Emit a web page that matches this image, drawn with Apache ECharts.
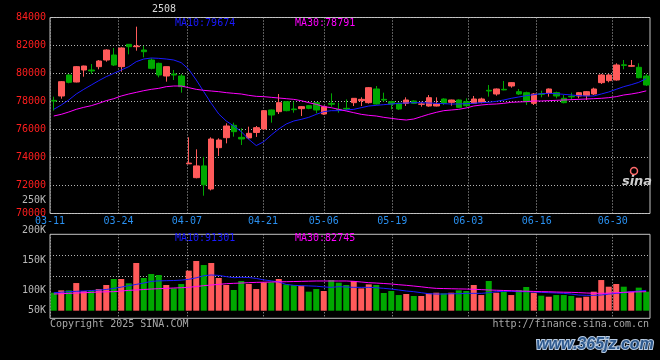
<!DOCTYPE html>
<html><head><meta charset="utf-8">
<script src="https://cdn.jsdelivr.net/npm/echarts@6/dist/echarts.min.js"></script>
<style>html,body{margin:0;padding:0;background:#000;}#c{width:660px;height:360px;}</style>
</head><body><div id="c"></div>
<script>
// ---- data ----
const dates = ['03-11','03-12','03-13','03-14','03-17','03-18','03-19','03-20','03-21','03-24','03-25','03-26','03-27','03-28','03-31',
 '04-01','04-02','04-03','04-07','04-08','04-09','04-10','04-11','04-14','04-15','04-16','04-17','04-18','04-21','04-22','04-23','04-24','04-25','04-28','04-29','04-30',
 '05-06','05-07','05-08','05-09','05-12','05-13','05-14','05-15','05-16','05-19','05-20','05-21','05-22','05-23','05-26','05-27','05-28','05-29','05-30',
 '06-03','06-04','06-05','06-06','06-09','06-10','06-11','06-12','06-13','06-16','06-17','06-18','06-19','06-20','06-23','06-24','06-25','06-26','06-27','06-30',
 '07-01','07-02','07-03','07-04','07-07'];
const open  = [78080,78393,79893,79393,80250,80250,80488,80964,81321,80488,82083,81916,81678,80964,80726,79821,79964,79821,73550,72560,
 73400,71750,74702,75416,76297,75440,75400,75790,76035,77393,77274,77988,77464,77488,77702,77917,77107,77869,77440,77512,
 77917,78059,77917,78893,78154,77988,77869,77869,78035,77800,77678,77678,78178,77940,78107,77988,77870,77941,78800,78536,
 78870,79108,78703,78631,77870,78560,78584,78631,78227,78370,78393,78417,78536,79346,79489,79536,80620,80520,80441,79822];
const close = [78030,79416,79369,80488,80535,80180,80893,81678,80607,81821,81916,81964,81559,80369,79893,80488,79893,79059,73600,73400,
 72050,75321,75250,76250,75845,75321,75726,76131,77345,77036,77917,77345,77417,77631,77512,77393,77631,77800,77393,77464,
 78226,78154,78988,77821,78107,77821,77464,78107,77869,77830,78273,77821,77869,78107,77583,77700,78179,78179,78750,78893,
 78830,79346,78536,77988,78536,78510,78893,78393,77917,78330,78631,78703,78893,79893,79893,80608,80580,80560,79703,79179];
const low   = [77345,78202,79300,79369,79774,79964,80297,80845,80535,80131,81369,81631,81154,80297,79726,79416,79535,78631,73535,72512,
 71271,71650,74107,75011,75488,74893,75300,75470,75964,76488,77107,77300,77202,76964,77450,77155,77050,77631,77202,77393,
 77678,77678,77850,77780,77988,77440,77400,77678,77820,77631,77631,77650,77750,77700,77550,77583,77822,77870,78346,78417,
 78800,78988,78465,77751,77750,78298,78346,78227,77870,78108,78227,78108,78465,79250,79370,79489,80298,80470,79655,79108];
const high  = [78345,79464,79940,80535,80560,80678,80964,81726,81821,81869,82110,83345,81964,81083,80774,80500,80250,79964,75441,74583,
 74050,75440,75369,76440,76488,76083,76200,76250,77393,77420,78535,78020,77988,77678,77750,77950,77700,78583,77917,78154,
 78250,78297,79035,79107,78631,78059,77950,78297,78080,77988,78464,78297,78226,78130,78150,78226,78393,78274,79179,78930,
 79465,79380,78893,78700,78600,78774,78930,78703,78465,78631,78680,78750,78988,79965,79965,80727,80965,80965,80727,79965];
const ma10  = [77440,77750,78107,78535,78869,79178,79488,79773,80012,80250,80488,80845,81035,81107,81083,81035,80964,80774,80297,79535,
 78702,77869,77107,76607,76250,75845,75300,74850,75130,75607,76035,76393,76607,76726,76869,77083,77274,77345,77345,77393,
 77440,77559,77678,77726,77774,77821,77869,77893,77917,77917,77893,77869,77845,77821,77821,77846,77870,77917,77941,78012,
 78108,78227,78322,78417,78489,78560,78584,78560,78512,78465,78417,78393,78393,78536,78679,78870,79060,79203,79370,79640];
const ma30  = [76964,77083,77250,77440,77583,77702,77869,78059,78202,78393,78535,78654,78773,78869,78940,79059,79107,79107,78988,78869,
 78797,78750,78702,78631,78583,78535,78440,78369,78345,78297,78250,78202,78154,78059,77917,77798,77631,77559,77440,77321,
 77202,77083,77012,76964,76869,76797,76726,76678,76750,76917,77083,77226,77345,77393,77440,77540,77679,77750,77798,77822,
 77870,77941,77965,77989,78036,78036,78060,78084,78108,78131,78155,78179,78203,78227,78274,78346,78465,78536,78631,78760];
const volume = [96700,100600,100600,112800,99500,99500,102800,109500,119500,119500,112300,146200,121200,127800,126200,109500,103900,111200,133400,149500,
 142800,146200,121200,109500,101200,116200,111200,102800,113900,113900,119500,110600,109500,108400,98400,102800,99500,117800,113400,109500,
 116200,103900,110600,109500,96200,99500,92800,94500,91200,91200,95600,96700,95600,96700,100600,99500,109500,92800,116200,96700,
 98400,92800,101200,106200,96700,91700,90000,92800,92800,91200,88400,90000,98400,117800,106700,111200,106700,98400,105100,98400];
const volMa10 = [96700,97500,98400,99000,99500,100300,101000,102000,103900,106000,108400,110500,112800,115500,116400,116700,117000,117600,119000,121500,
 125000,126200,125500,123500,121700,122300,122000,120500,118000,116500,114500,110500,109000,108400,108000,107500,106300,105600,106700,106200,
 105600,105600,105600,105000,104000,102800,101200,99500,98400,96700,95000,94500,94500,95000,95000,95600,95600,95600,96700,98400,
 99000,99000,98400,98400,97800,97300,96700,96200,95600,94500,92800,92300,92300,92800,94500,95600,96700,98400,99500,100600];
const volMa30 = [94500,95000,95600,96200,96700,97200,97800,98200,98400,99500,100600,101200,102000,102800,103400,103900,104500,105000,105600,107000,
 108400,109500,110600,111700,112300,112800,113400,113900,114200,114500,114800,115000,115300,115600,115900,116200,116200,116200,116200,116200,
 115600,114500,113400,112800,112000,111200,110000,109000,107800,106500,105000,103900,103600,103300,103000,102800,102400,101800,101200,100800,
 100400,100000,99500,99200,98800,98400,98200,97800,97500,97300,96800,96200,95800,95600,96000,96700,97300,97800,98100,98400];
const xTickDay    = [0, 9, 18, 28, 36, 45, 55, 64, 74];   // trading-day index of each labelled date
const xTickLabels = ['03-11','03-24','04-07','04-21','05-06','05-19','06-03','06-16','06-30'];
const volTickValues = [66700, 100000, 150000, 200000];
const volTickLabels = ['50K', '100K', '150K', '200K'];
const title = '2508';
const priceLegend = ['MA10:79674', 'MA30:78791'];
const volLegend = ['MA10:91301', 'MA30:82745'];

// ---- chart ----
const RED = '#ff5a5a', GREEN = '#00a800', GRIDC = '#b4b4b4', BORDER = '#c4c4c4';
const MONO = '"DejaVu Sans Mono", monospace';
const dayMax = 78.9;
const candles = dates.map((d, i) => [open[i], close[i], low[i], high[i]]);
const dotted = { color: GRIDC, type: [1, 2], width: 1 };

const chart = echarts.init(document.getElementById('c'), null, { renderer: 'canvas' });
const txt = (x, y, text, fill, align, extra) => ({
  type: 'text', x, y, z: 10,
  style: Object.assign({ text, fill, font: '10px ' + MONO, align, verticalAlign: 'middle' }, extra || {})
});

chart.setOption({
  backgroundColor: '#000',
  animation: false,
  grid: [
    { left: 50, top: 17.5, width: 600, height: 196, show: true, borderColor: BORDER, borderWidth: 1, backgroundColor: 'transparent' },
    { left: 50, top: 230.7, width: 600, height: 80, show: false },
    { left: 50, top: 234.3, width: 600, height: 84, show: true, borderColor: BORDER, borderWidth: 1, backgroundColor: 'transparent' }
  ],
  xAxis: [
    { type: 'category', gridIndex: 0, data: dates, boundaryGap: true, show: false },
    { type: 'value', gridIndex: 0, min: 0, max: dayMax, position: 'bottom',
      axisLine: { show: false }, axisTick: { show: false, customValues: xTickDay },
      axisLabel: { customValues: xTickDay, formatter: v => xTickLabels[xTickDay.indexOf(v)] || '',
        color: '#2a90f0', fontFamily: MONO, fontSize: 10, margin: 3 },
      splitLine: { show: true, lineStyle: dotted } },
    { type: 'category', gridIndex: 1, data: dates, boundaryGap: true, show: false },
    { type: 'value', gridIndex: 2, min: 0, max: dayMax,
      axisLine: { show: false }, axisTick: { show: false, customValues: xTickDay },
      axisLabel: { show: false, customValues: xTickDay },
      splitLine: { show: true, lineStyle: dotted } }
  ],
  yAxis: [
    { type: 'value', gridIndex: 0, min: 70000, max: 84000, interval: 2000,
      axisLine: { show: false }, axisTick: { show: false },
      axisLabel: { color: '#ff1e1e', fontFamily: MONO, fontSize: 10, margin: 4, formatter: v => String(v) },
      splitLine: { show: true, lineStyle: dotted } },
    { type: 'value', gridIndex: 1, min: 66700, max: 200000,
      axisLine: { show: false }, axisTick: { show: false },
      axisLabel: { customValues: volTickValues, formatter: v => volTickLabels[volTickValues.indexOf(v)] || '',
        color: '#b8b8b8', fontFamily: MONO, fontSize: 10, margin: 4 },
      splitLine: { show: false } },
    { type: 'value', gridIndex: 2, min: 0, max: 4, interval: 1,
      axisLine: { show: false }, axisTick: { show: false }, axisLabel: { show: false },
      splitLine: { show: true, lineStyle: { color: ['transparent', 'transparent', GRIDC, GRIDC, 'transparent'], type: [1, 2], width: 1 } } }
  ],
  series: [
    { type: 'candlestick', xAxisIndex: 0, yAxisIndex: 0, data: candles, barWidth: 6,
      itemStyle: { color: RED, color0: GREEN, borderColor: RED, borderColor0: GREEN, borderWidth: 1 } },
    { type: 'line', xAxisIndex: 0, yAxisIndex: 0, data: ma10, symbol: 'none', lineStyle: { color: '#1a1aff', width: 1 }, z: 3 },
    { type: 'line', xAxisIndex: 0, yAxisIndex: 0, data: ma30, symbol: 'none', lineStyle: { color: '#ff00ff', width: 1 }, z: 3 },
    { type: 'bar', xAxisIndex: 2, yAxisIndex: 1, data: volume, barWidth: 6,
      itemStyle: { color: p => close[p.dataIndex] >= open[p.dataIndex] ? RED : GREEN } },
    { type: 'line', xAxisIndex: 2, yAxisIndex: 1, data: volMa10, symbol: 'none', lineStyle: { color: '#1a1aff', width: 1 }, z: 3 },
    { type: 'line', xAxisIndex: 2, yAxisIndex: 1, data: volMa30, symbol: 'none', lineStyle: { color: '#ff00ff', width: 1 }, z: 3 }
  ],
  graphic: [
    txt(164, 9, title, '#d8d8d8', 'center'),
    txt(175, 23.5, priceLegend[0], '#1a1aff', 'left'),
    txt(295, 23.5, priceLegend[1], '#ff00ff', 'left'),
    txt(175, 238.5, volLegend[0], '#1a1aff', 'left'),
    txt(295, 238.5, volLegend[1], '#ff00ff', 'left'),
    txt(46, 200.7, '250K', '#b8b8b8', 'right'),
    txt(50, 324, 'Copyright 2025 SINA.COM', '#a8a8a8', 'left'),
    txt(649, 324, 'http://finance.sina.com.cn', '#a8a8a8', 'right'),
    { type: 'circle', z: 10, shape: { cx: 634, cy: 171, r: 3.5 }, style: { fill: 'none', stroke: '#ff6b6b', lineWidth: 1.5 } },
    txt(637, 182, 'sina', '#cfcfcf', 'center', { font: 'italic bold 13px "DejaVu Sans"' }),
    txt(595, 345, 'www.365jz.com', '#2f5a8e', 'center', { font: 'italic bold 16px "Liberation Sans"', stroke: '#b9cce3', lineWidth: 2 })
  ]
});
</script></body></html>
